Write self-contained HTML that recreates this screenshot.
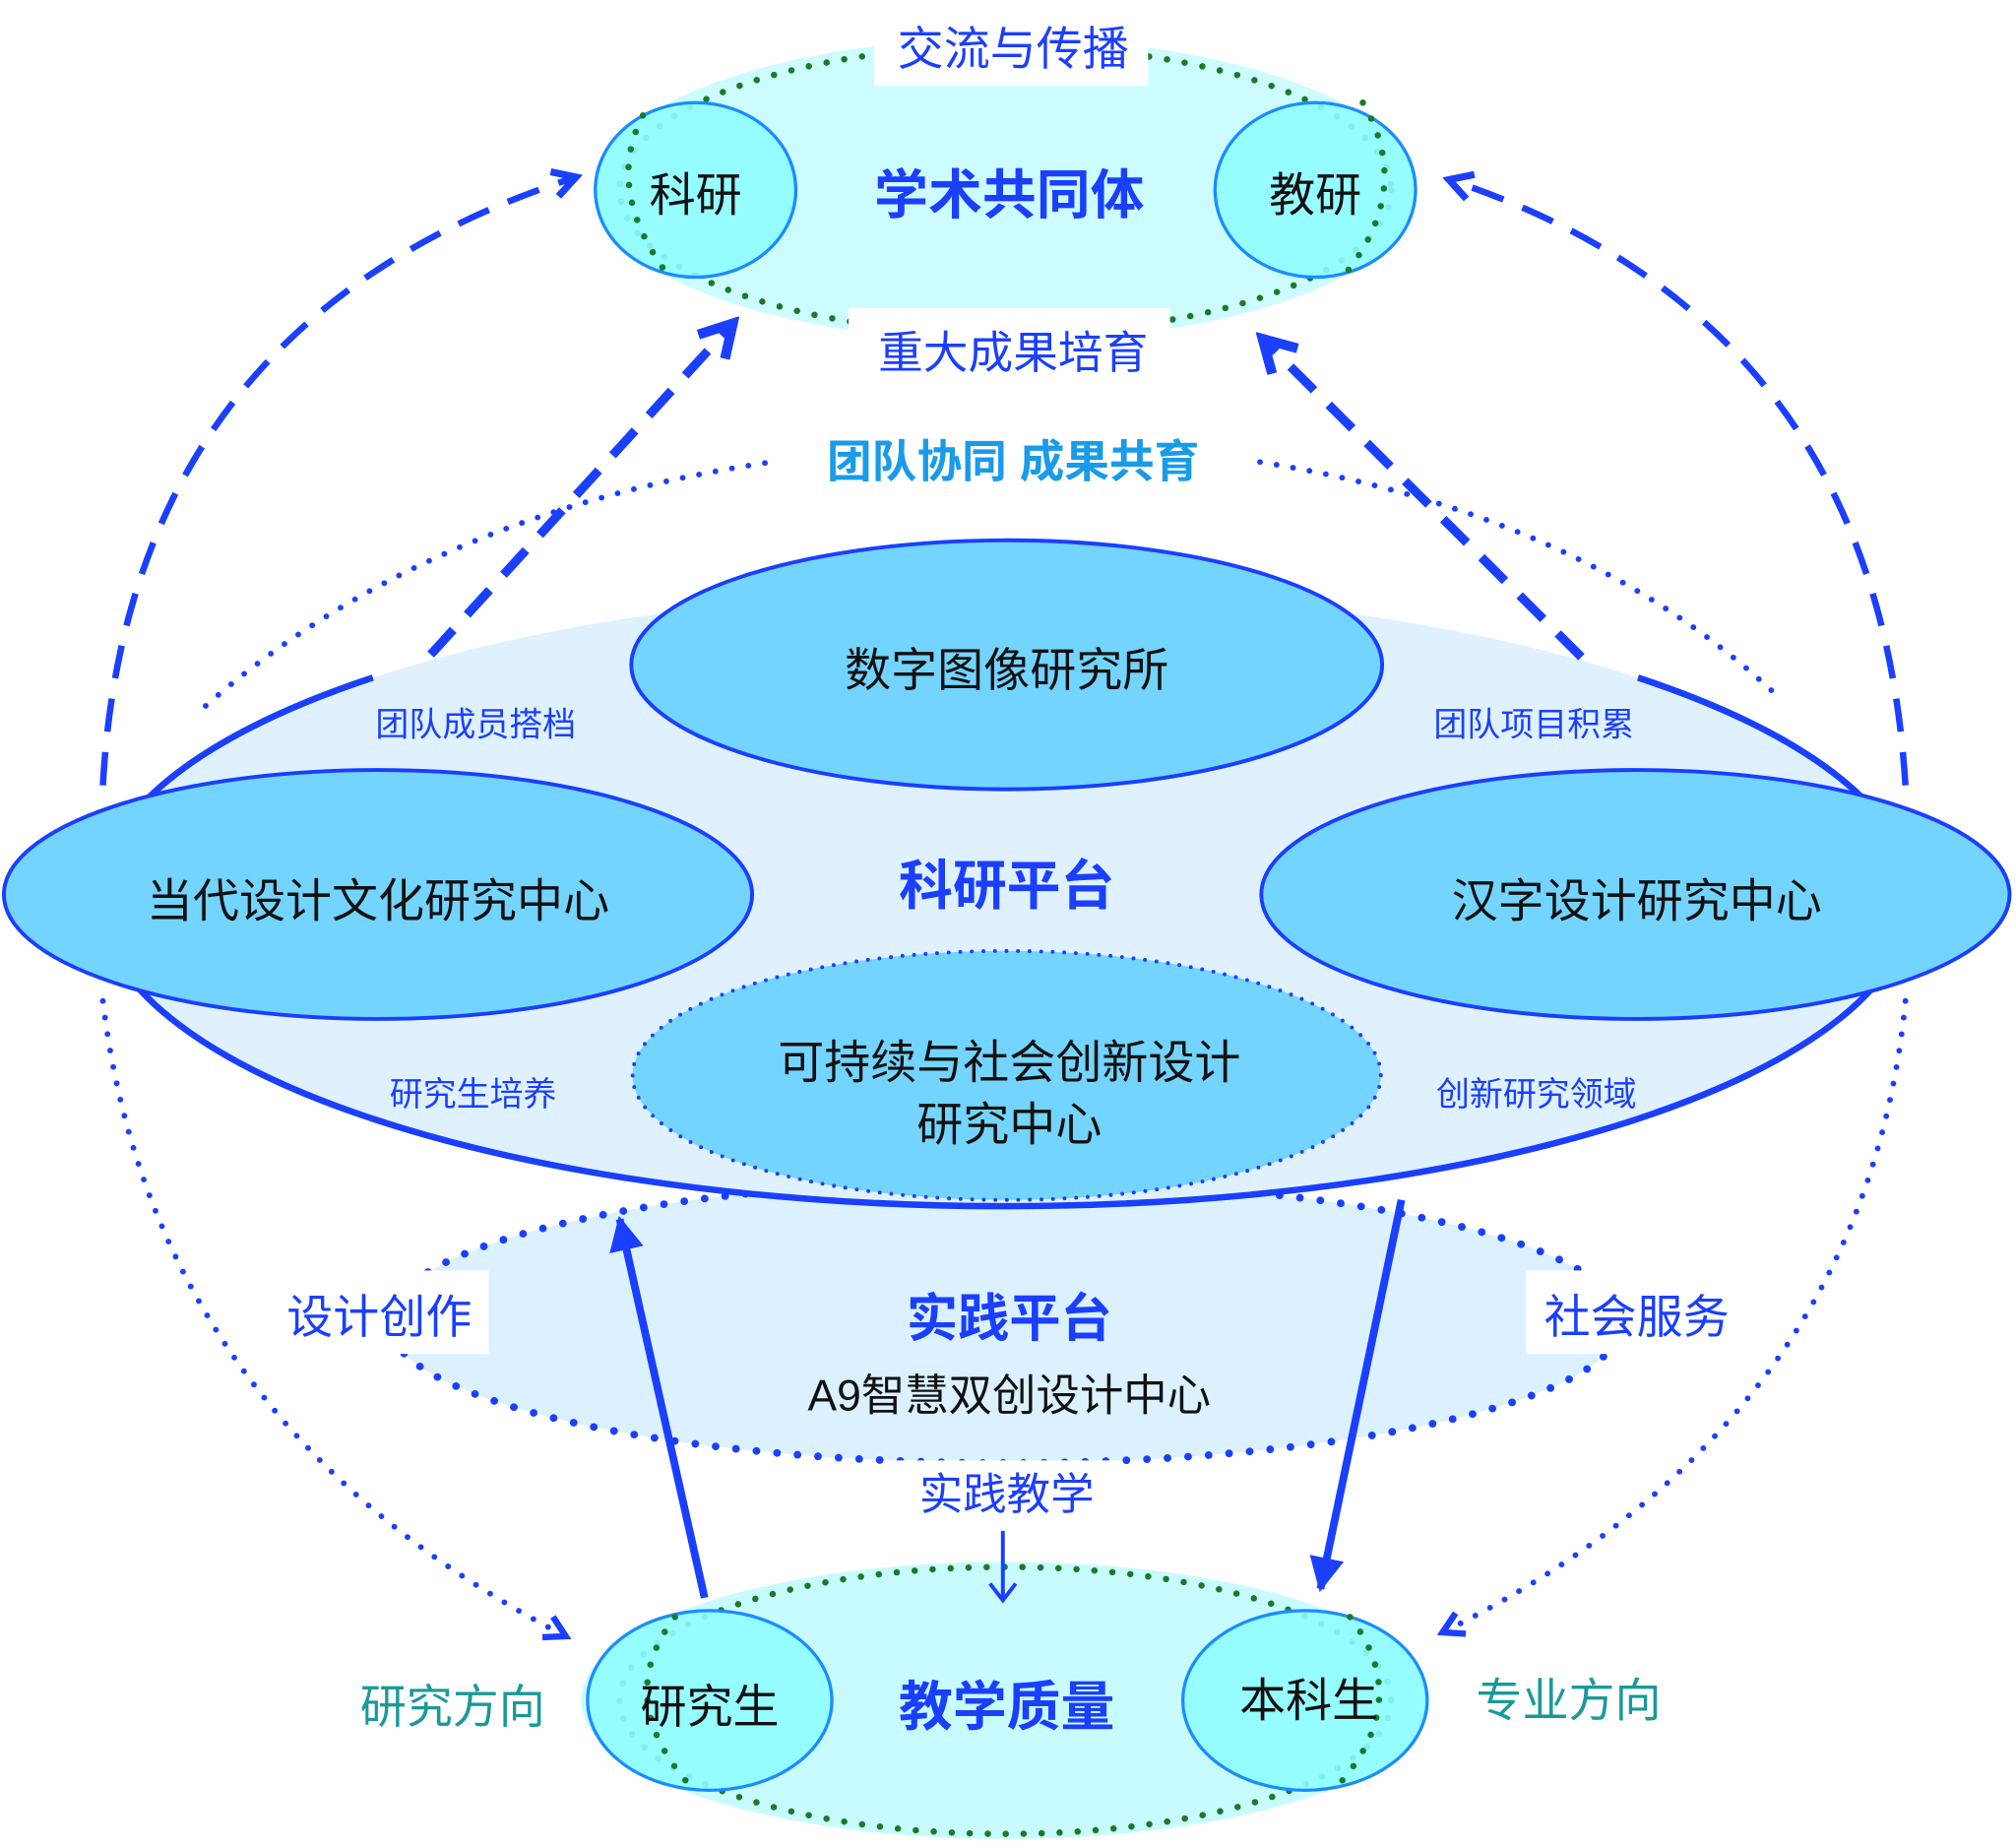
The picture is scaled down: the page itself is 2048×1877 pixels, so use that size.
<!DOCTYPE html>
<html><head><meta charset="utf-8"><style>
html,body{margin:0;padding:0;background:#fff;}
svg{display:block;}
text{font-family:"Liberation Sans","Noto Sans CJK SC",sans-serif;text-anchor:middle;dominant-baseline:central;}
</style></head><body>
<svg width="2048" height="1877" viewBox="0 0 1568 1440" preserveAspectRatio="none" xmlns="http://www.w3.org/2000/svg">
<defs>
<marker id="ah" viewBox="0 0 10 10" refX="8" refY="5" markerWidth="5" markerHeight="5" orient="auto" markerUnits="strokeWidth">
<path d="M1,1 L8,5 L1,9" fill="none" stroke="#1a3fff" stroke-width="2.2"/></marker>
<marker id="as" viewBox="0 0 10 10" refX="9" refY="5" markerWidth="4.5" markerHeight="4.5" orient="auto" markerUnits="strokeWidth">
<path d="M0,0 L10,5 L0,10 z" fill="#1a3fff"/></marker>
</defs>

<!-- top community -->
<ellipse cx="782" cy="148" rx="320" ry="118" fill="#ccfcff"/>
<ellipse cx="782" cy="148" rx="300" ry="112" fill="none" stroke="#1a7a2a" stroke-width="5" stroke-dasharray="0 14" stroke-linecap="round"/>
<rect x="680" y="0" width="213" height="67" fill="#fff"/>
<rect x="660" y="240" width="250" height="60" fill="#fff"/>
<ellipse cx="541" cy="148" rx="78" ry="68" fill="#8ffcff" fill-opacity="0.9" stroke="#1a8cff" stroke-width="2.5"/>
<ellipse cx="1023" cy="148" rx="78" ry="68" fill="#8ffcff" fill-opacity="0.9" stroke="#1a8cff" stroke-width="2.5"/>
<path d="M500,90 Q470,148 520,215" fill="none" stroke="#1a7a2a" stroke-width="5" stroke-dasharray="0 14" stroke-linecap="round"/>
<path d="M1060,80 Q1100,148 1045,215" fill="none" stroke="#1a7a2a" stroke-width="5" stroke-dasharray="0 14" stroke-linecap="round"/>
<text x="788" y="38" font-size="36" fill="#1a3fff">交流与传播</text>
<text x="541" y="152" font-size="36" fill="#111">科研</text>
<text x="1023" y="152" font-size="36" fill="#111">教研</text>
<text x="785" y="152" font-size="42" font-weight="bold" fill="#1a3fff">学术共同体</text>
<text x="788" y="275" font-size="35" fill="#1a3fff">重大成果培育</text>
<text x="788" y="360" font-size="35" font-weight="bold" fill="#1a9be8">团队协同  成果共育</text>

<!-- big dotted arcs -->
<g fill="none" stroke="#1a3fff" stroke-width="4.5" stroke-dasharray="0 13" stroke-linecap="round">
<path d="M160,550 Q330,400 600,360"/>
<path d="M980,360 Q1230,400 1380,540"/>
<path d="M80,780 Q120,1110 440,1275" marker-end="url(#ah)"/>
<path d="M1482,780 Q1450,1110 1122,1272" marker-end="url(#ah)"/>
</g>

<!-- practice platform -->
<ellipse cx="782" cy="1030" rx="480" ry="110" fill="#dbf1ff"/>
<ellipse cx="782" cy="1030" rx="480" ry="110" fill="none" stroke="#1a3fff" stroke-width="6" stroke-dasharray="0 16" stroke-linecap="round"/>

<!-- research platform -->
<ellipse cx="782" cy="700" rx="705" ry="240" fill="#dff1ff"/>
<path d="M290,528 A705,240 0 1 0 1274,528" fill="none" stroke="#1a3fff" stroke-width="5"/>
<ellipse cx="783" cy="518" rx="292" ry="97" fill="#73d4ff" stroke="#1a3fff" stroke-width="3"/>
<ellipse cx="294" cy="697" rx="291" ry="97" fill="#73d4ff" stroke="#1a3fff" stroke-width="3"/>
<ellipse cx="1272" cy="697" rx="291" ry="97" fill="#73d4ff" stroke="#1a3fff" stroke-width="3"/>
<ellipse cx="783" cy="838" rx="291" ry="97" fill="#73d4ff" stroke="#1a3fff" stroke-width="3" stroke-dasharray="0 9" stroke-linecap="round"/>
<text x="783" y="522" font-size="36" fill="#111">数字图像研究所</text>
<text x="294" y="702" font-size="36" fill="#111">当代设计文化研究中心</text>
<text x="1273" y="702" font-size="36" fill="#111">汉字设计研究中心</text>
<text x="785" y="828" font-size="36" fill="#111">可持续与社会创新设计</text>
<text x="785" y="876" font-size="36" fill="#111">研究中心</text>
<text x="783" y="690" font-size="42" font-weight="bold" fill="#1a3fff">科研平台</text>
<text x="370" y="565" font-size="26" fill="#1a3fff">团队成员搭档</text>
<text x="1193" y="565" font-size="26" fill="#1a3fff">团队项目积累</text>
<text x="368" y="853" font-size="26" fill="#1a3fff">研究生培养</text>
<text x="1195" y="853" font-size="26" fill="#1a3fff">创新研究领域</text>

<!-- dashed arcs/arrows -->
<g fill="none" stroke="#1a3fff" stroke-width="5" stroke-dasharray="26 16">
<path d="M80,612 Q100,250 448,138" marker-end="url(#ah)"/>
<path d="M1482,612 Q1460,250 1127,140" marker-end="url(#ah)"/>
<path d="M335,510 L570,252" stroke-width="7" marker-end="url(#ah)"/>
<path d="M1230,512 L982,264" stroke-width="7" marker-end="url(#ah)"/>
</g>

<!-- practice labels -->
<rect x="300" y="990" width="80" height="65" fill="#fff"/>
<rect x="1187" y="990" width="75" height="65" fill="#fff"/>
<rect x="695" y="1138" width="175" height="52" fill="#fff"/>
<text x="295" y="1026" font-size="36" fill="#1a3fff">设计创作</text>
<text x="1273" y="1026" font-size="36" fill="#1a3fff">社会服务</text>
<text x="785" y="1028" font-size="40" font-weight="bold" fill="#1a3fff">实践平台</text>
<text x="785" y="1088" font-size="34" fill="#111">A9智慧双创设计中心</text>
<text x="783" y="1165" font-size="34" fill="#1a3fff">实践教学</text>

<!-- teaching quality -->
<ellipse cx="782" cy="1325" rx="330" ry="108" fill="#c8fbff"/>
<ellipse cx="782" cy="1325" rx="300" ry="104" fill="none" stroke="#1a7a2a" stroke-width="5" stroke-dasharray="0 14" stroke-linecap="round"/>
<ellipse cx="552" cy="1325" rx="95" ry="70" fill="#8ffcff" fill-opacity="0.9" stroke="#1a8cff" stroke-width="2.5"/>
<ellipse cx="1015" cy="1325" rx="95" ry="70" fill="#8ffcff" fill-opacity="0.9" stroke="#1a8cff" stroke-width="2.5"/>
<path d="M525,1260 Q475,1325 540,1395" fill="none" stroke="#1a7a2a" stroke-width="5" stroke-dasharray="0 14" stroke-linecap="round"/>
<path d="M1050,1260 Q1100,1325 1040,1392" fill="none" stroke="#1a7a2a" stroke-width="5" stroke-dasharray="0 14" stroke-linecap="round"/>
<text x="552" y="1330" font-size="36" fill="#111">研究生</text>
<text x="1018" y="1325" font-size="36" fill="#111">本科生</text>
<text x="783" y="1330" font-size="42" font-weight="bold" fill="#1a3fff">教学质量</text>
<text x="352" y="1330" font-size="36" fill="#1a9999">研究方向</text>
<text x="1220" y="1325" font-size="36" fill="#1a9999">专业方向</text>

<path d="M780,1193 L780,1246 M770,1234 L780,1247 L790,1234" fill="none" stroke="#1a3fff" stroke-width="3"/>

<!-- solid arrows -->
<path d="M548,1245 L482,950" stroke="#1a3fff" stroke-width="6" marker-end="url(#as)"/>
<path d="M1090,935 L1027,1238" stroke="#1a3fff" stroke-width="6" marker-end="url(#as)"/>
</svg>
</body></html>
